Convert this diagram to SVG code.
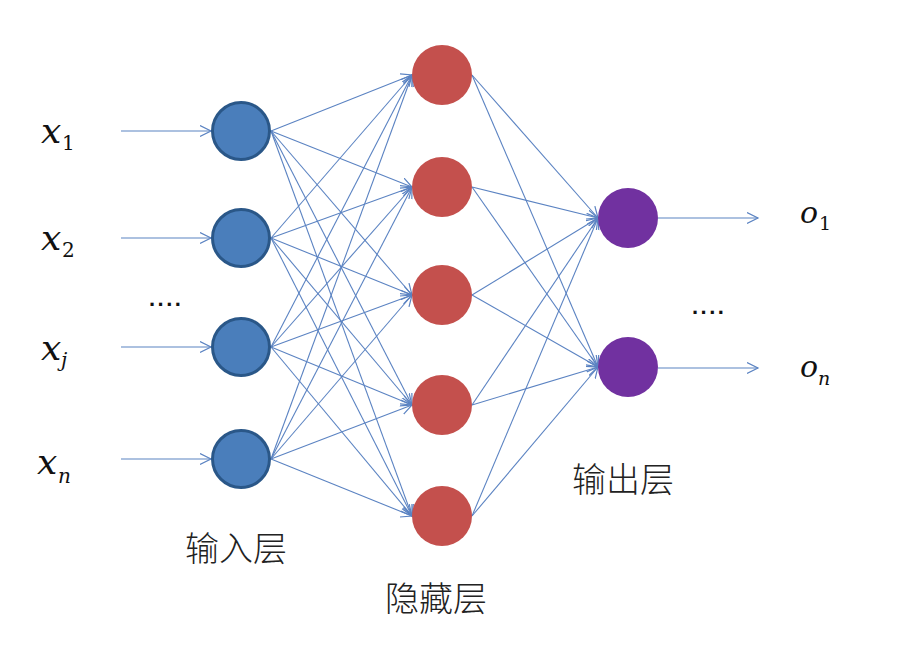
<svg xmlns="http://www.w3.org/2000/svg" width="901" height="650" viewBox="0 0 901 650">
<defs>
<marker id="arr" markerUnits="userSpaceOnUse" markerWidth="14" markerHeight="14" refX="11" refY="6" orient="auto">
<path d="M0,0.5 L11,6 L0,11.5" fill="none" stroke="#5b83c2" stroke-width="1.2"/>
</marker>
<style>
.c{stroke:#5b83c2;stroke-width:1.1;fill:none;marker-end:url(#arr)}
.in{fill:#4a7ebb;stroke:#2a5788;stroke-width:3}
.hid{fill:#c4504d}
.out{fill:#7131a0}
.m{font-family:"DejaVu Serif","Liberation Serif",serif;font-style:italic;fill:#111}
.s{font-family:"DejaVu Serif","Liberation Serif",serif;fill:#111}
.cn{font-family:"Noto Sans CJK SC",sans-serif;font-size:34px;font-weight:300;fill:#222}
.d{font-family:"Liberation Sans",sans-serif;font-size:22px;font-weight:bold;fill:#111;letter-spacing:2.5px}
</style>
</defs>
<rect width="901" height="650" fill="#fff"/>
<g id="connectors">
<line class="c" x1="121" y1="131" x2="211" y2="131"/>
<line class="c" x1="121" y1="238" x2="211" y2="238"/>
<line class="c" x1="121" y1="347" x2="211" y2="347"/>
<line class="c" x1="121" y1="459" x2="211" y2="459"/>
<line class="c" x1="271" y1="131" x2="412" y2="75"/>
<line class="c" x1="271" y1="131" x2="412" y2="187"/>
<line class="c" x1="271" y1="131" x2="412" y2="295"/>
<line class="c" x1="271" y1="131" x2="412" y2="405"/>
<line class="c" x1="271" y1="131" x2="412" y2="516"/>
<line class="c" x1="271" y1="238" x2="412" y2="75"/>
<line class="c" x1="271" y1="238" x2="412" y2="187"/>
<line class="c" x1="271" y1="238" x2="412" y2="295"/>
<line class="c" x1="271" y1="238" x2="412" y2="405"/>
<line class="c" x1="271" y1="238" x2="412" y2="516"/>
<line class="c" x1="271" y1="347" x2="412" y2="75"/>
<line class="c" x1="271" y1="347" x2="412" y2="187"/>
<line class="c" x1="271" y1="347" x2="412" y2="295"/>
<line class="c" x1="271" y1="347" x2="412" y2="405"/>
<line class="c" x1="271" y1="347" x2="412" y2="516"/>
<line class="c" x1="271" y1="459" x2="412" y2="75"/>
<line class="c" x1="271" y1="459" x2="412" y2="187"/>
<line class="c" x1="271" y1="459" x2="412" y2="295"/>
<line class="c" x1="271" y1="459" x2="412" y2="405"/>
<line class="c" x1="271" y1="459" x2="412" y2="516"/>
<line class="c" x1="472" y1="75" x2="598" y2="218"/>
<line class="c" x1="472" y1="75" x2="598" y2="367"/>
<line class="c" x1="472" y1="187" x2="598" y2="218"/>
<line class="c" x1="472" y1="187" x2="598" y2="367"/>
<line class="c" x1="472" y1="295" x2="598" y2="218"/>
<line class="c" x1="472" y1="295" x2="598" y2="367"/>
<line class="c" x1="472" y1="405" x2="598" y2="218"/>
<line class="c" x1="472" y1="405" x2="598" y2="367"/>
<line class="c" x1="472" y1="516" x2="598" y2="218"/>
<line class="c" x1="472" y1="516" x2="598" y2="367"/>
<line class="c" x1="658" y1="218" x2="758" y2="218"/>
<line class="c" x1="658" y1="368" x2="758" y2="368"/>
</g>
<g id="in1"><circle class="in" cx="241" cy="131" r="28.5"/></g>
<g id="in2"><circle class="in" cx="241" cy="238" r="28.5"/></g>
<g id="in3"><circle class="in" cx="241" cy="347" r="28.5"/></g>
<g id="in4"><circle class="in" cx="241" cy="459" r="28.5"/></g>
<g id="h1"><circle class="hid" cx="442" cy="75" r="30"/></g>
<g id="h2"><circle class="hid" cx="442" cy="187" r="30"/></g>
<g id="h3"><circle class="hid" cx="442" cy="295" r="30"/></g>
<g id="h4"><circle class="hid" cx="442" cy="405" r="30"/></g>
<g id="h5"><circle class="hid" cx="442" cy="516" r="30"/></g>
<g id="o1"><circle class="out" cx="628" cy="218" r="30"/></g>
<g id="o2"><circle class="out" cx="628" cy="367" r="30"/></g>
<g id="labels">
<text class="m" x="41" y="143" font-size="36">x</text><text class="s" x="62" y="150" font-size="20">1</text>
<text class="m" x="41" y="250" font-size="36">x</text><text class="s" x="62" y="257" font-size="20">2</text>
<text class="m" x="41" y="360" font-size="36">x</text><text class="m" x="61" y="367" font-size="20">j</text>
<text class="m" x="37" y="474" font-size="36">x</text><text class="m" x="58" y="483" font-size="20">n</text>
<text class="m" x="800" y="223" font-size="30">o</text><text class="s" x="819" y="230" font-size="19">1</text>
<text class="m" x="800" y="377" font-size="30">o</text><text class="m" x="818" y="385" font-size="19">n</text>
<text class="d" x="149" y="306">....</text>
<text class="d" x="692" y="314">....</text>
<text class="cn" x="185" y="561">输入层</text>
<text class="cn" x="385" y="611">隐藏层</text>
<text class="cn" x="572" y="492">输出层</text>
</g>
</svg>
